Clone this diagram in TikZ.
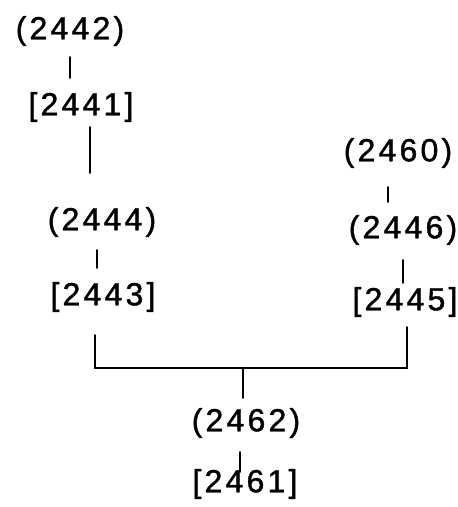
\documentclass[tikz,border=0pt]{standalone}
\usepackage{fontspec}
\newfontfamily\handfont[LetterSpace=10, FakeBold=1.2]{Liberation Sans}
\usetikzlibrary{calc}
\tikzstyle{num} = [inner sep=0, font=\handfont\fontsize{32}{34}\selectfont]
\tikzstyle{paren} = [num, minimum height=40pt]
\tikzstyle{brack} = [num, minimum height=36pt]
\tikzstyle{link} = [line width=2.4pt, line cap=round]

\begin{document}
\begin{tikzpicture}[x=1pt, y=-1pt]

    \useasboundingbox (0,0) rectangle (458,507);

    % Left line
    \node (n2442) at (70,31) [paren] {(2442)};
    \node (n2441) at (81,107) [brack] {[2441]};
    \draw[link, shorten <=6pt, shorten >=11pt] (n2442.south) -- (n2442.south |- n2441.north);
    \node (n2444) at (102,222) [paren] {(2444)};
    \draw[link, shorten <=2pt, shorten >=29pt] ([xshift=9pt]n2441.south) -- ([xshift=9pt]n2441.south |- n2444.north);
    \node (n2443) at (103,297) [brack] {[2443]};
    \draw[link, shorten <=8pt, shorten >=11pt] ([xshift=-5pt]n2444.south) -- ([xshift=-5pt]n2444.south |- n2443.north);

    % Right line
    \node (n2460) at (398,153) [paren] {(2460)};
    \node (n2446) at (403,230) [paren] {(2446)};
    \draw[link, shorten <=14pt, shorten >=8pt] ([xshift=-10pt]n2460.south) -- ([xshift=-10pt]n2460.south |- n2446.north);
    \node (n2445) at (405,302) [brack] {[2445]};
    \draw[link, shorten <=10pt, shorten >=1pt] (n2446.south) -- (n2446.south |- n2445.north);

    % Joining bar
    \coordinate (bar) at (243,368);
    \draw[link] ($(n2443.south)+(-8,20)$) |- (bar) -| ($(n2445.south)+(2,7)$);

    % Bottom
    \node (n2462) at (246,423) [paren] {(2462)};
    \node (n2461) at (245,484) [brack] {[2461]};
    \draw[link, shorten >=5pt] (bar) -- (bar |- n2462.north);
    \draw[link, shorten <=9pt, shorten >=-6pt] ([xshift=-6pt]n2462.south) -- ([xshift=-6pt]n2462.south |- n2461.north);

\end{tikzpicture}
\end{document}
